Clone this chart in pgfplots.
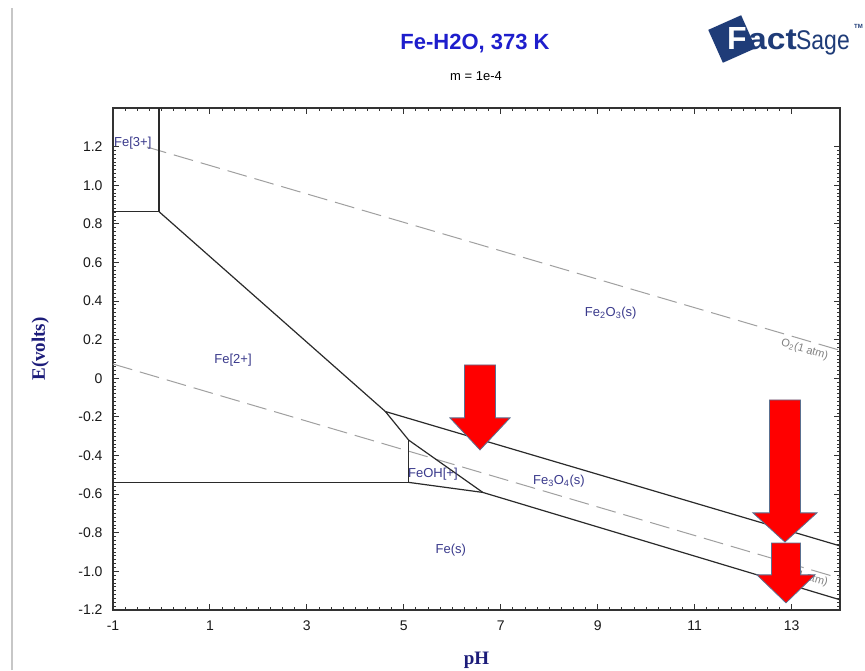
\documentclass[border=0pt]{standalone}
\usepackage{fontspec}
\setmainfont{Liberation Sans}
\newfontfamily\timesf{Liberation Serif}
\usepackage{pgfplots}
\pgfplotsset{compat=1.18}
\definecolor{titleblue}{HTML}{1E1ECC}
\definecolor{lblnavy}{HTML}{3A3A8C}
\definecolor{axnavy}{HTML}{1C1C7A}
\definecolor{dashgray}{HTML}{A0A0A0}
\definecolor{logonavy}{HTML}{1F3C78}
\definecolor{arrowred}{HTML}{FF0000}
\definecolor{arrowedge}{HTML}{5A7090}
\definecolor{bnd}{HTML}{2A2A2A}
\begin{document}
\begin{tikzpicture}[x=1pt,y=1pt]
\useasboundingbox (0,0) rectangle (865,670);
\fill[white] (0,0) rectangle (865,670);
\draw[line width=2pt, black!22] (12,0) -- (12,662);
% title
\node[font=\fontsize{22}{26}\selectfont\bfseries, text=titleblue] at (475,626) {Fe-H2O, 373 K};
\node[font=\fontsize{13}{15}\selectfont] at (476,594) {m = 1e-4};
% logo
\fill[logonavy, rotate around={24:(732,631)}] (714,613) rectangle (750,649);
\node[font=\fontsize{32}{34}\selectfont\bfseries, text=white, anchor=base west, inner sep=0pt] at (727,620) {F};
\node[font=\fontsize{30}{32}\selectfont\bfseries, text=logonavy, anchor=base west, inner sep=0pt, xscale=1.12] at (748,620) {act};
\node[font=\fontsize{27}{30}\selectfont, text=logonavy, anchor=base west, inner sep=0pt, xscale=0.85] at (796,620) {Sage};
\node[font=\fontsize{6}{7}\selectfont\bfseries, text=logonavy, anchor=base west, inner sep=0pt] at (854,641) {TM};
\begin{axis}[
  at={(113pt,60pt)}, anchor=south west, scale only axis,
  width=727pt, height=502pt,
  xmin=-1, xmax=14, ymin=-1.2, ymax=1.4,
  xtick={-1,1,...,13}, minor x tick num=7,
  ytick={-1.2,-1.0,-0.8,-0.6,-0.4,-0.2,0,0.2,0.4,0.6,0.8,1.0,1.2},
  yticklabels={-1.2,-1.0,-0.8,-0.6,-0.4,-0.2,0,0.2,0.4,0.6,0.8,1.0,1.2},
  minor y tick num=9,
  tick align=inside, major tick length=6pt, minor tick length=3pt,
  axis line style={line width=1.3pt, black!80},
  tick style={line width=0.9pt, black!80},
  ticklabel style={font=\fontsize{14}{16}\selectfont, text=black!90},
  xticklabel style={yshift=-7pt},
  yticklabel style={xshift=-7pt},
  /pgf/number format/assume math mode=true,
  xlabel={pH}, ylabel={E(volts)},
  xlabel style={font=\timesf\bfseries\fontsize{19}{22}\selectfont, text=axnavy, at={(axis description cs:0.5,-0.1)}, anchor=center},
  ylabel style={font=\timesf\bfseries\fontsize{19}{22}\selectfont, text=axnavy, at={(axis description cs:-0.1,0.52)}, anchor=center, rotate=0},
  clip=false,
]
% water stability lines
\addplot[dashgray, line width=1pt, dash pattern=on 20pt off 8pt] coordinates {(-0.3,1.198) (14,0.145)};
\addplot[dashgray, line width=1pt, dash pattern=on 20pt off 8pt] coordinates {(-1,0.074) (14,-1.036)};
% boundaries
\addplot[bnd, line width=1.2pt] coordinates {(-1,0.863) (-0.05,0.863)};
\addplot[bnd, line width=1.2pt] coordinates {(-0.05,1.4) (-0.05,0.863)};
\addplot[bnd, line width=1.2pt] coordinates {(-0.05,0.863) (4.62,-0.172)};
\addplot[bnd, line width=1.2pt] coordinates {(4.62,-0.172) (14,-0.868)};
\addplot[bnd, line width=1.2pt] coordinates {(4.62,-0.172) (5.10,-0.320)};
\addplot[bnd, line width=1.2pt] coordinates {(5.10,-0.320) (6.63,-0.591)};
\addplot[bnd, line width=1.2pt] coordinates {(5.10,-0.320) (5.10,-0.539)};
\addplot[bnd, line width=1.2pt] coordinates {(-1,-0.539) (5.10,-0.539)};
\addplot[bnd, line width=1.2pt] coordinates {(5.10,-0.539) (6.63,-0.591)};
\addplot[bnd, line width=1.2pt] coordinates {(6.63,-0.591) (14,-1.147)};
% region labels
\begin{scope}[every node/.style={font=\fontsize{13}{15}\selectfont, text=lblnavy}]
\node[anchor=west, inner sep=1pt] at (axis cs:-1,1.219) {Fe[3+]};
\node at (axis cs:1.476,0.095) {Fe[2+]};
\node at (axis cs:9.27,0.338) {Fe\textsubscript{2}O\textsubscript{3}(s)};
\node at (axis cs:5.60,-0.495) {FeOH[+]};
\node at (axis cs:8.20,-0.532) {Fe\textsubscript{3}O\textsubscript{4}(s)};
\node at (axis cs:5.97,-0.889) {Fe(s)};
\end{scope}
\node[font=\fontsize{11}{13}\selectfont, text=black!50, rotate=-16.4] at (axis cs:13.27,0.147) {O\textsubscript{2}(1 atm)};
\node[font=\fontsize{11}{13}\selectfont, text=black!50, rotate=-16.4] at (axis cs:13.27,-1.026) {H\textsubscript{2}(1 atm)};
% red arrows
\filldraw[fill=arrowred, draw=arrowedge, line width=0.8pt] (axis cs:6.252,0.069) -- (axis cs:6.892,0.069) -- (axis cs:6.892,-0.205) -- (axis cs:7.192,-0.205) -- (axis cs:6.572,-0.371) -- (axis cs:5.952,-0.205) -- (axis cs:6.252,-0.205) -- cycle;
\filldraw[fill=arrowred, draw=arrowedge, line width=0.8pt] (axis cs:12.544,-0.112) -- (axis cs:13.184,-0.112) -- (axis cs:13.184,-0.697) -- (axis cs:13.524,-0.697) -- (axis cs:12.864,-0.848) -- (axis cs:12.204,-0.697) -- (axis cs:12.544,-0.697) -- cycle;
\filldraw[fill=arrowred, draw=arrowedge, line width=0.8pt] (axis cs:12.585,-0.853) -- (axis cs:13.185,-0.853) -- (axis cs:13.185,-1.018) -- (axis cs:13.485,-1.018) -- (axis cs:12.885,-1.163) -- (axis cs:12.285,-1.018) -- (axis cs:12.585,-1.018) -- cycle;
\end{axis}
\end{tikzpicture}
\end{document}
